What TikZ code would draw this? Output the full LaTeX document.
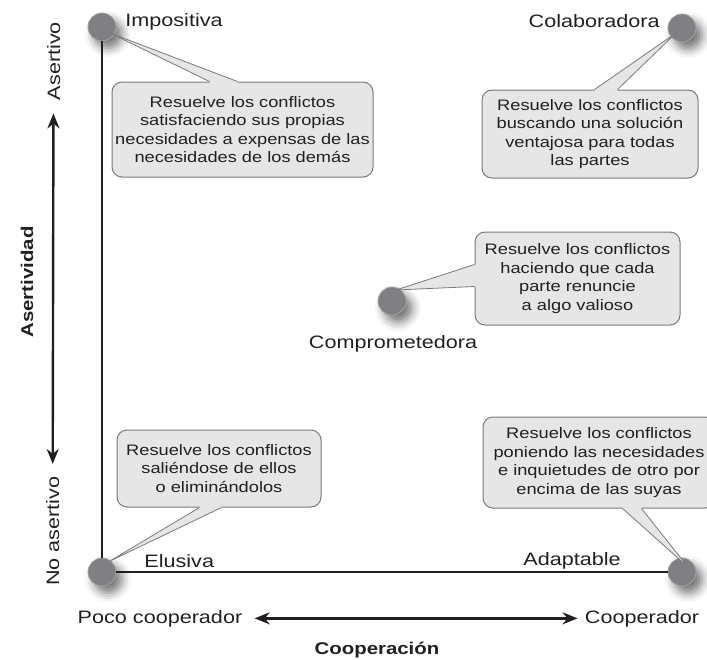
\documentclass[tikz,border=0pt]{standalone}
\usepackage{fontspec}
\setmainfont[FakeStretch=1.2]{Liberation Sans}
\usetikzlibrary{arrows.meta,calc,shadows.blur}
\definecolor{DotGray}{HTML}{808084}
\definecolor{DotRim}{HTML}{A3A3A6}
\definecolor{BubbleFill}{HTML}{E6E6E6}
\definecolor{BubbleLine}{HTML}{7A7A7A}
\definecolor{Ink}{HTML}{231F20}
\tikzset{
  modedot/.style={circle,fill=DotGray,draw=DotRim,line width=0.4pt,minimum size=14pt,inner sep=0pt,
    blur shadow={shadow xshift=3pt,shadow yshift=-3.5pt,shadow blur radius=4.5pt,shadow opacity=55}},
  modename/.style={font=\fontsize{9}{11}\selectfont,text=Ink,inner sep=0pt},
  axisname/.style={font=\fontsize{9}{11}\selectfont,text=Ink,inner sep=0pt},
  axistitle/.style={font=\fontsize{8.5}{10}\selectfont\bfseries,text=Ink,inner sep=0pt},
  bubble/.style={draw=BubbleLine,fill=BubbleFill,line width=0.5pt,rounded corners=5pt,align=center,
    inner sep=0pt,text=Ink,font=\fontsize{7.6}{9.2}\selectfont},
  tailline/.style={draw=BubbleLine,line width=0.4pt},
  frameline/.style={draw=Ink,line width=0.6pt},
  axisarrow/.style={draw=Ink,line width=1.2pt,{Stealth[length=7.5pt,width=6pt]}-{Stealth[length=7.5pt,width=6pt]}}
}
\begin{document}
\begin{tikzpicture}[x=0.5pt,y=-0.5pt]
  \useasboundingbox (0,0) rectangle (707,659);

  % Conflict modes
  \node[modedot] (imp) at (102,27) {};
  \node[modedot] (col) at (682,28) {};
  \node[modedot] (com) at (392,301) {};
  \node[modedot] (elu) at (102,572) {};
  \node[modedot] (ada) at (682,572) {};

  % Frame
  \draw[frameline] (imp) -- (elu);
  \draw[frameline] (elu) -- (ada);

  % Mode names
  \node[modename,anchor=base west] (impname) at (125,26) {Impositiva};
  \node[modename,anchor=base east] (colname) at (660,27) {Colaboradora};
  \node[modename,anchor=base] (comname) at (393,348) {Comprometedora};
  \node[modename,anchor=base west] (eluname) at (144,567) {Elusiva};
  \node[modename,anchor=base] (adaname) at (572,565) {Adaptable};

  % Descriptions
  \node[bubble,minimum width=130.5pt,minimum height=47.5pt] (b1) at (242.5,129.5)
    {Resuelve los conflictos\\satisfaciendo sus propias\\necesidades a expensas de las\\necesidades de los demás};
  \node[bubble,minimum width=108pt,minimum height=44pt] (b2) at (590,134)
    {Resuelve los conflictos\\buscando una solución\\ventajosa para todas\\las partes};
  \node[bubble,minimum width=102.5pt,minimum height=46.5pt] (b3) at (577.5,278.5)
    {Resuelve los conflictos\\haciendo que cada\\parte renuncie\\a algo valioso};
  \node[bubble,minimum width=102pt,minimum height=38.5pt] (b4) at (219,468.5)
    {Resuelve los conflictos\\saliéndose de ellos\\o eliminándolos};
  \node[bubble,minimum width=116pt,minimum height=45.5pt] (b5) at (599,462.5)
    {Resuelve los conflictos\\poniendo las necesidades\\e inquietudes de otro por\\encima de las suyas};

  % Tails
  \coordinate (t1a) at ($(b1.north west)+(98,0)$);
  \coordinate (t1b) at ($(b1.north west)+(126,0)$);
  \coordinate (t1) at ($(imp)+(8,6)$);
  \fill[BubbleFill] (t1a) -- (t1) -- (t1b) -- ++(0,2) -- ($(t1a)+(0,2)$) -- cycle;
  \draw[tailline] (t1a) -- (t1) -- (t1b);

  \coordinate (t2a) at ($(b2.north west)+(113,0)$);
  \coordinate (t2b) at ($(b2.north west)+(136,0)$);
  \coordinate (t2) at ($(col)+(-6,5)$);
  \fill[BubbleFill] (t2a) -- (t2) -- (t2b) -- ++(0,2) -- ($(t2a)+(0,2)$) -- cycle;
  \draw[tailline] (t2a) -- (t2) -- (t2b);

  \coordinate (t3a) at ($(b3.north west)+(0,33)$);
  \coordinate (t3b) at ($(b3.north west)+(0,55)$);
  \coordinate (t3) at ($(com)+(4,-11)$);
  \fill[BubbleFill] (t3a) -- (t3) -- (t3b) -- ++(2,0) -- ($(t3a)+(2,0)$) -- cycle;
  \draw[tailline] (t3a) -- (t3) -- (t3b);

  \coordinate (t4a) at ($(b4.south west)+(83,0)$);
  \coordinate (t4b) at ($(b4.south west)+(105,0)$);
  \coordinate (t4) at ($(elu)+(8,-11)$);
  \fill[BubbleFill] (t4a) -- (t4) -- (t4b) -- ++(0,-2) -- ($(t4a)+(0,-2)$) -- cycle;
  \draw[tailline] (t4a) -- (t4) -- (t4b);

  \coordinate (t5a) at ($(b5.south west)+(140,0)$);
  \coordinate (t5b) at ($(b5.south west)+(159,0)$);
  \coordinate (t5) at ($(ada)+(6,-5)$);
  \fill[BubbleFill] (t5a) -- (t5) -- (t5b) -- ++(0,-2) -- ($(t5a)+(0,-2)$) -- cycle;
  \draw[tailline] (t5a) -- (t5) -- (t5b);

  % Axes
  \node[axisname,rotate=90,anchor=base] (aser) at (60,61) {Asertivo};
  \node[axisname,rotate=90,anchor=base] (noaser) at (59,531) {No asertivo};
  \node[axistitle,rotate=90,anchor=base] (asertividad) at (33,282) {Asertividad};
  \draw[axisarrow,shorten <=6.5pt,shorten >=6pt] (aser) -- (noaser);

  \node[axisname,anchor=base] (poco) at (160,623) {Poco cooperador};
  \node[axisname,anchor=base] (coop) at (642,623) {Cooperador};
  \node[axistitle,anchor=base] (cooperacion) at (377,654) {Cooperación};
  \draw[axisarrow,shorten <=6pt,shorten >=3.5pt] (poco) -- (coop);
\end{tikzpicture}
\end{document}
